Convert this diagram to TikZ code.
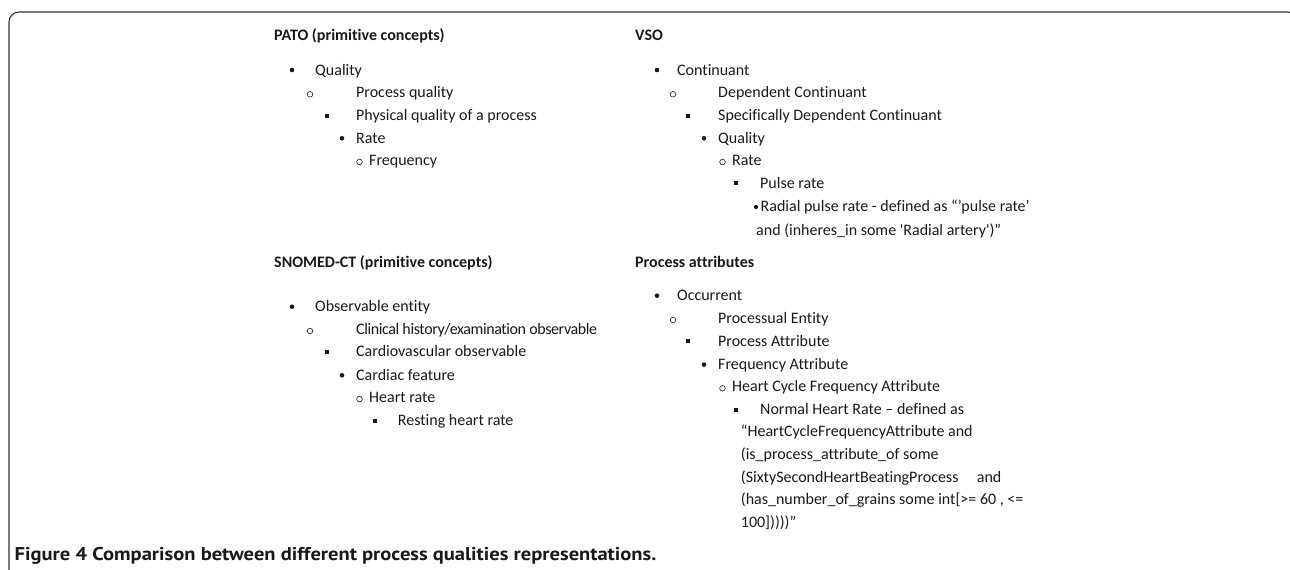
\documentclass[tikz,border=0pt]{standalone}
\usepackage{fontspec}
\newfontfamily\bodyfont{Carlito}[Ligatures=NoCommon]
\newfontfamily\capfont{PT Sans}
\begin{document}
\begin{tikzpicture}[x=1pt,y=-1pt,
  txt/.style={anchor=base west, inner sep=0pt, text=black!90, font=\bodyfont\fontsize{16}{19}\selectfont},
  ttl/.style={anchor=base west, inner sep=0pt, text=black!90, font=\bodyfont\bfseries\fontsize{16}{19}\selectfont},
  bul/.style={circle, fill=black!90, inner sep=0pt, minimum size=4.6pt},
  sbul/.style={circle, fill=black!90, inner sep=0pt, minimum size=4.2pt},
  obul/.style={circle, draw=black!90, line width=0.6pt, inner sep=0pt, minimum size=5.6pt},
  qbul/.style={rectangle, fill=black!90, inner sep=0pt, minimum size=4.2pt},
  frame/.style={draw=black!80, line width=1.1pt, rounded corners=10pt}]
\useasboundingbox (0,0) rectangle (1290,570);
\draw[frame] (9,580) -- (9,12) -- (1298,12) -- (1298,580);

% PATO
\node[ttl] (pato) at (274,40) {PATO (primitive concepts)};
\node[bul]  (pa1b) at (292,70) {};
\node[txt]  (pa1)  at (315,75) {Quality};
\node[obul] (pa2b) at (310,94.3) {};
\node[txt]  (pa2)  at (356,97.7) {Process quality};
\node[qbul] (pa3b) at (327,115.7) {};
\node[txt]  (pa3)  at (356,120.3) {Physical quality of a process};
\node[bul]  (pa4b) at (342,138.3) {};
\node[txt]  (pa4)  at (356,143) {Rate};
\node[obul] (pa5b) at (359.5,162) {};
\node[txt]  (pa5)  at (369,165.7) {Frequency};

% VSO
\node[ttl] (vso) at (635,40) {VSO};
\node[bul]  (vs1b) at (657,70) {};
\node[txt]  (vs1)  at (677,75) {Continuant};
\node[obul] (vs2b) at (673,94.3) {};
\node[txt]  (vs2)  at (718,97.7) {Dependent Continuant};
\node[qbul] (vs3b) at (688,115.7) {};
\node[txt]  (vs3)  at (718,120.3) {Specifically Dependent Continuant};
\node[bul]  (vs4b) at (704,138.3) {};
\node[txt]  (vs4)  at (718,143) {Quality};
\node[obul] (vs5b) at (722.5,162) {};
\node[txt]  (vs5)  at (732,165.7) {Rate};
\node[qbul] (vs6b) at (736,183.3) {};
\node[txt]  (vs6)  at (760,188.3) {Pulse rate};
\node[sbul] (vs7b) at (756,207) {};
\node[txt]  (vs7)  at (760.5,211.7) {Radial pulse rate - defined as “’pulse rate’};
\node[txt]  (vs8)  at (756,235) {and (inheres\_in some 'Radial artery')”};

% SNOMED-CT
\node[ttl] (snomed) at (274,267) {SNOMED-CT (primitive concepts)};
\node[bul]  (sn1b) at (292,306.7) {};
\node[txt]  (sn1)  at (315,311.7) {Observable entity};
\node[obul] (sn2b) at (310,331) {};
\node[txt]  (sn2)  at (356,334.3) {\addfontfeature{LetterSpace=-2.5}Clinical history/examination observable};
\node[qbul] (sn3b) at (327,352) {};
\node[txt]  (sn3)  at (356,356.7) {Cardiovascular observable};
\node[bul]  (sn4b) at (342,375.3) {};
\node[txt]  (sn4)  at (356,380) {Cardiac feature};
\node[obul] (sn5b) at (359.5,399) {};
\node[txt]  (sn5)  at (369,402.7) {Heart rate};
\node[qbul] (sn6b) at (375,421) {};
\node[txt]  (sn6)  at (397.7,425.7) {Resting heart rate};

% Process attributes
\node[ttl] (proc) at (635,267) {Process attributes};
\node[bul]  (pr1b) at (657,295.7) {};
\node[txt]  (pr1)  at (677,300.7) {Occurrent};
\node[obul] (pr2b) at (673,320) {};
\node[txt]  (pr2)  at (718,323.3) {Processual Entity};
\node[qbul] (pr3b) at (688,341.3) {};
\node[txt]  (pr3)  at (718,346) {Process Attribute};
\node[bul]  (pr4b) at (704,364.6) {};
\node[txt]  (pr4)  at (718,369.3) {Frequency Attribute};
\node[obul] (pr5b) at (722.5,388.3) {};
\node[txt]  (pr5)  at (732,391.7) {Heart Cycle Frequency Attribute};
\node[qbul] (pr6b) at (736,409.6) {};
\node[txt]  (pr6)  at (760,414.3) {Normal Heart Rate – defined as};
\node[txt]  (pr7)  at (740.7,436.7) {“HeartCycleFrequencyAttribute and};
\node[txt]  (pr8)  at (740.7,459.3) {(is\_process\_attribute\_of some};
\node[txt]  (pr9)  at (740.7,482) {(SixtySecondHeartBeatingProcess};
\node[txt]  (pr9b) at (976.7,482) {and};
\node[txt]  (pr10) at (740.7,504.6) {(has\_number\_of\_grains some int[>= 60 , <=};
\node[txt]  (pr11) at (740.7,527.3) {100]))))”};

% caption
\node[anchor=base west, inner sep=0pt, text=black!90, xscale=1.11, transform shape, font=\capfont\bfseries\fontsize{18.5}{21}\selectfont] (cap) at (14.5,560.5) {Figure 4 Comparison between different process qualities representations.};
\end{tikzpicture}
\end{document}
